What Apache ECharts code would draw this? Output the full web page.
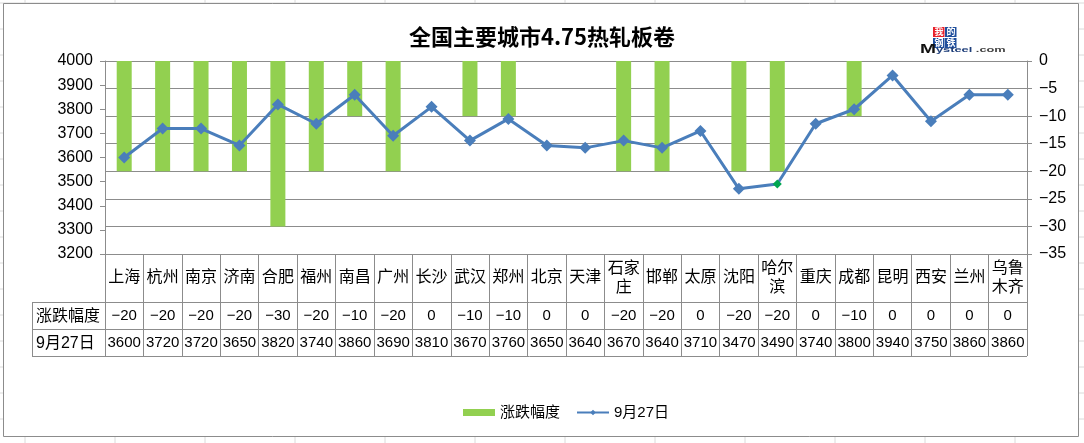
<!DOCTYPE html>
<html>
<head>
<meta charset="utf-8">
<script src="https://cdn.jsdelivr.net/npm/echarts@6/dist/echarts.min.js"></script>
<style>
  html, body { margin: 0; padding: 0; background: #fff; }
  #chart { width: 1084px; height: 443px; }
</style>
</head>
<body>
<div id="chart"></div>
<script>
// data
var cities = ['上海', '杭州', '南京', '济南', '合肥', '福州', '南昌', '广州', '长沙', '武汉', '郑州', '北京',
  '天津', '石家庄', '邯郸', '太原', '沈阳', '哈尔滨', '重庆', '成都', '昆明', '西安', '兰州', '乌鲁木齐'];
var changes = [-20, -20, -20, -20, -30, -20, -10, -20, 0, -10, -10, 0,
  0, -20, -20, 0, -20, -20, 0, -10, 0, 0, 0, 0];
var prices = [3600, 3720, 3720, 3650, 3820, 3740, 3860, 3690, 3810, 3670, 3760, 3650,
  3640, 3670, 3640, 3710, 3470, 3490, 3740, 3800, 3940, 3750, 3860, 3860];
var priceTicks = [3200, 4000, 100];
var changeTicks = [-35, 0, 5];
var barName = '涨跌幅度';
var lineName = '9月27日';
var markedCity = '哈尔滨';

// layout (plot area + data table under it)
var G = { left: 105, right: 1027, top: 61, bottom: 254 };
var rowY = [254, 302, 329, 356];
var tableLeft = 32;
var ink = '#000';
var rule = '#8c8c8c';
var font = "'Liberation Sans', 'Noto Sans CJK SC', sans-serif";

function minus(v) { return String(v).replace('-', '\u2212'); }
function wrap(name) { return name.length > 2 ? name.slice(0, 2) + '\n' + name.slice(2) : name; }

var chart = echarts.init(document.getElementById('chart'), null, { renderer: 'canvas' });

var graphics = [];
// faint spreadsheet cells behind the chart object
for (var x = 25; x < 1084; x += 90) {
  graphics.push({ type: 'line', z: -30, silent: true, shape: { x1: x, y1: 0, x2: x, y2: 443 }, style: { stroke: '#dadada', lineWidth: 1 } });
}
for (var y = 3; y < 443; y += 26) {
  graphics.push({ type: 'line', z: -30, silent: true, shape: { x1: 0, y1: y, x2: 1084, y2: y }, style: { stroke: '#dadada', lineWidth: 1 } });
}
// chart object frame
graphics.push({ type: 'rect', z: -20, silent: true, shape: { x: 3.5, y: 3.5, width: 1075, height: 433 }, style: { fill: '#fff', stroke: rule, lineWidth: 1 } });
// table horizontal rules + left column
[1, 2, 3].forEach(function (i) {
  graphics.push({ type: 'line', z: 5, silent: true, shape: { x1: tableLeft, y1: rowY[i] + 0.5, x2: G.right, y2: rowY[i] + 0.5 }, style: { stroke: rule, lineWidth: 1 } });
});
graphics.push({ type: 'line', z: 5, silent: true, shape: { x1: tableLeft + 0.5, y1: rowY[1], x2: tableLeft + 0.5, y2: rowY[3] }, style: { stroke: rule, lineWidth: 1 } });
// row headers
[barName, lineName].forEach(function (t, i) {
  graphics.push({ type: 'text', z: 5, silent: true, x: tableLeft + 4, y: (rowY[i + 1] + rowY[i + 2]) / 2 + 1,
    style: { text: t, fill: ink, font: '16px ' + font, verticalAlign: 'middle', align: 'left' } });
});
// Mysteel logo
[['我', '#e8202a', 933, 27], ['的', '#1f4e9c', 945, 27], ['钢', '#1f4e9c', 933, 38], ['铁', '#1f4e9c', 945, 38]].forEach(function (c) {
  graphics.push({ type: 'rect', z: 5, silent: true, shape: { x: c[2], y: c[3], width: 11.5, height: 10 }, style: { fill: c[1] } });
  graphics.push({ type: 'text', z: 6, silent: true, x: c[2] + 6, y: c[3] + 5,
    style: { text: c[0], fill: '#fff', font: 'bold 9px "Noto Sans CJK SC"', align: 'center', verticalAlign: 'middle' } });
});
graphics.push({ type: 'text', z: 5, silent: true, x: 920, y: 56, scaleX: 1.6,
  style: { rich: {
    m: { font: 'bold 12px ' + font, fill: '#111' },
    s: { font: 'bold 8px ' + font, fill: '#1f3f7a' },
    c: { font: 'bold 8px ' + font, fill: '#444' }
  }, text: '{m|M}{s|ysteel}{c| .com}', verticalAlign: 'bottom' } });

var option = {
  animation: false,
  backgroundColor: 'transparent',
  textStyle: { fontFamily: font, color: ink },
  title: {
    text: '全国主要城市4.75热轧板卷',
    left: 'center', top: 21,
    textStyle: { fontFamily: "'Noto Sans CJK SC'", fontWeight: 'bold', fontSize: 22, color: ink }
  },
  legend: {
    left: 458, top: 400,
    itemWidth: 32, itemHeight: 7, itemGap: 16,
    textStyle: { fontFamily: font, fontSize: 15, color: ink },
    data: [
      { name: barName, icon: 'rect' },
      { name: lineName }
    ]
  },
  grid: { left: G.left, right: 1084 - G.right, top: G.top, bottom: 443 - G.bottom, containLabel: false },
  xAxis: [
    {
      type: 'category', data: cities, position: 'bottom',
      axisLine: { onZero: false, lineStyle: { color: rule } },
      axisTick: { show: true, inside: false, length: rowY[3] - rowY[0], lineStyle: { color: rule } },
      axisLabel: { interval: 0, margin: (rowY[1] - rowY[0]) / 2, verticalAlign: 'middle', lineHeight: 19,
        fontSize: 16, color: ink, formatter: wrap }
    },
    {
      type: 'category', data: changes.map(minus), position: 'bottom', offset: rowY[1] - rowY[0],
      axisLine: { show: false }, axisTick: { show: false },
      axisLabel: { interval: 0, margin: (rowY[2] - rowY[1]) / 2, verticalAlign: 'middle', fontSize: 15, color: ink }
    },
    {
      type: 'category', data: prices.map(String), position: 'bottom', offset: rowY[2] - rowY[0],
      axisLine: { show: false }, axisTick: { show: false },
      axisLabel: { interval: 0, margin: (rowY[3] - rowY[2]) / 2, verticalAlign: 'middle', fontSize: 15, color: ink }
    }
  ],
  yAxis: [
    {
      type: 'value', position: 'left',
      min: priceTicks[0], max: priceTicks[1], interval: priceTicks[2],
      axisLine: { show: true, lineStyle: { color: rule } },
      axisTick: { show: true, length: 5, lineStyle: { color: rule } },
      splitLine: { show: false },
      axisLabel: { fontSize: 16, color: ink, margin: 12, formatter: function (v) { return String(v); } }
    },
    {
      type: 'value', position: 'right',
      min: changeTicks[0], max: changeTicks[1], interval: changeTicks[2],
      axisLine: { show: true, lineStyle: { color: rule } },
      axisTick: { show: true, length: 5, lineStyle: { color: rule } },
      splitLine: { show: true, lineStyle: { color: rule, width: 1 } },
      axisLabel: { fontSize: 16, color: ink, margin: 12, formatter: minus }
    }
  ],
  series: [
    {
      name: barName, type: 'bar', xAxisIndex: 0, yAxisIndex: 1,
      data: changes, barWidth: 15,
      itemStyle: { color: '#92d050' }, z: 2
    },
    {
      name: lineName, type: 'line', xAxisIndex: 0, yAxisIndex: 0,
      data: prices.map(function (v, i) {
        return cities[i] === markedCity ? { value: v, itemStyle: { color: '#00a651' }, symbolSize: 9 } : v;
      }),
      symbol: 'diamond', symbolSize: 12,
      lineStyle: { color: '#4a7ebb', width: 3 },
      itemStyle: { color: '#4a7ebb' }, z: 3
    }
  ],
  graphic: graphics
};

chart.setOption(option);
</script>
</body>
</html>
